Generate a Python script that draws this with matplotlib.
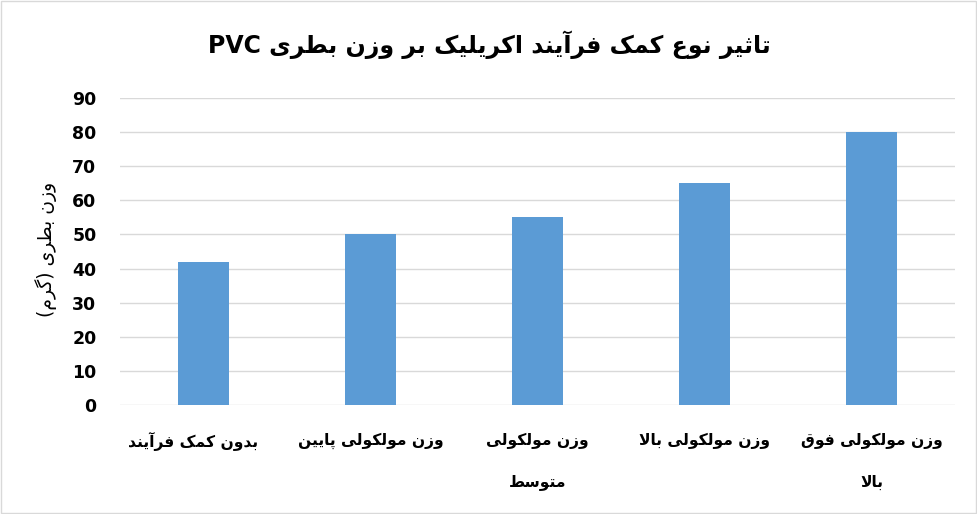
import matplotlib
matplotlib.use("Agg")
import matplotlib.pyplot as plt
from matplotlib.patches import Rectangle
from matplotlib.transforms import blended_transform_factory

# data
categories = ["بدون کمک فرآیند", "وزن مولکولی پایین", "وزن مولکولی\nمتوسط",
              "وزن مولکولی بالا", "وزن مولکولی فوق\nبالا"]
weights = [42, 50, 55, 65, 80]
yticks = [0, 10, 20, 30, 40, 50, 60, 70, 80, 90]
title = "تاثیر نوع کمک فرآیند اکریلیک بر وزن بطری PVC"
ylabel = "وزن بطری (گرم)"

# minimal persian shaping: isolated, final, initial, medial
FORMS = {
    '\u0627': ('\uFE8D', '\uFE8E', None, None),
    '\u0622': ('\uFE81', '\uFE82', None, None),
    '\u0628': ('\uFE8F', '\uFE90', '\uFE91', '\uFE92'),
    '\u067E': ('\uFB56', '\uFB57', '\uFB58', '\uFB59'),
    '\u062A': ('\uFE95', '\uFE96', '\uFE97', '\uFE98'),
    '\u062B': ('\uFE99', '\uFE9A', '\uFE9B', '\uFE9C'),
    '\u062F': ('\uFEA9', '\uFEAA', None, None),
    '\u0631': ('\uFEAD', '\uFEAE', None, None),
    '\u0632': ('\uFEAF', '\uFEB0', None, None),
    '\u0633': ('\uFEB1', '\uFEB2', '\uFEB3', '\uFEB4'),
    '\u0637': ('\uFEC1', '\uFEC2', '\uFEC3', '\uFEC4'),
    '\u0639': ('\uFEC9', '\uFECA', '\uFECB', '\uFECC'),
    '\u0641': ('\uFED1', '\uFED2', '\uFED3', '\uFED4'),
    '\u0642': ('\uFED5', '\uFED6', '\uFED7', '\uFED8'),
    '\u06A9': ('\uFB8E', '\uFB8F', '\uFB90', '\uFB91'),
    '\u06AF': ('\uFB92', '\uFB93', '\uFB94', '\uFB95'),
    '\u0644': ('\uFEDD', '\uFEDE', '\uFEDF', '\uFEE0'),
    '\u0645': ('\uFEE1', '\uFEE2', '\uFEE3', '\uFEE4'),
    '\u0646': ('\uFEE5', '\uFEE6', '\uFEE7', '\uFEE8'),
    '\u0648': ('\uFEED', '\uFEEE', None, None),
    '\u06CC': ('\uFBFC', '\uFBFD', '\uFBFE', '\uFBFF'),
}
LAMALEF = {'\u0627': ('\uFEFB', '\uFEFC'), '\u0622': ('\uFEF5', '\uFEF6')}


def joins_next(c):
    return c in FORMS and FORMS[c][2] is not None


def shape_word(w):
    res = []
    i = 0
    while i < len(w):
        c = w[i]
        if c not in FORMS:
            res.append(c)
            i += 1
            continue
        prev = w[i - 1] if i > 0 else None
        nxt = w[i + 1] if i + 1 < len(w) else None
        con_prev = prev is not None and joins_next(prev)
        if c == '\u0644' and nxt in LAMALEF:
            res.append(LAMALEF[nxt][1 if con_prev else 0])
            i += 2
            continue
        con_next = nxt is not None and joins_next(c) and nxt in FORMS
        iso, fin, ini, med = FORMS[c]
        if con_prev and con_next:
            res.append(med)
        elif con_prev:
            res.append(fin)
        elif con_next:
            res.append(ini)
        else:
            res.append(iso)
        i += 1
    return res


def rtl(line):
    out = []
    for w in line.split(' '):
        if any(ch in FORMS for ch in w):
            chars = shape_word(w)[::-1]
            chars = [{'(': ')', ')': '('}.get(ch, ch) for ch in chars]
            out.append(''.join(chars))
        else:
            out.append(w)
    return ' '.join(out[::-1])


fig = plt.figure(figsize=(9.78, 5.14), dpi=100)
ax = fig.add_axes([0.1227, 0.2121, 0.8538, 0.5972])

x = list(range(len(categories)))
ax.bar(x, weights, width=0.31, color="#5B9BD5", zorder=3)
ax.set_xlim(-0.5, len(categories) - 0.5)
ax.set_ylim(0, 90)
ax.set_yticks(yticks)
ax.set_yticklabels([str(t) for t in yticks], fontsize=12.5, fontweight="bold")
ax.tick_params(axis="y", length=0, pad=17)
ax.set_xticks([])
ax.grid(axis="y", color="#D9D9D9", linewidth=1, zorder=0)
for s in ax.spines.values():
    s.set_visible(False)

# category labels under each bar (the first one sits a bit left, as in Excel)
tr = blended_transform_factory(ax.transData, fig.transFigure)
line_y = [1 - 441 / 514, 1 - 482 / 514]
shift = [-0.065, 0, 0, 0, 0]
for i, cat in enumerate(categories):
    for j, line in enumerate(cat.split("\n")):
        ax.text(i + shift[i], line_y[j], rtl(line), transform=tr, ha="center", va="center",
                fontsize=11.2, fontweight="bold", family="DejaVu Sans")

fig.text(0.5, 1 - 45 / 514, rtl(title), ha="center", va="center",
         fontsize=17, fontweight="bold", family="DejaVu Sans")
fig.text(46 / 978, 1 - 249 / 514, rtl(ylabel), ha="center", va="center",
         rotation=90, fontsize=13.5, family="DejaVu Sans")

fig.patches.append(Rectangle((0.001, 0.002), 0.997, 0.996, transform=fig.transFigure,
                             fill=False, edgecolor="#D9D9D9", linewidth=1))

fig.savefig("out.png", dpi=100)
